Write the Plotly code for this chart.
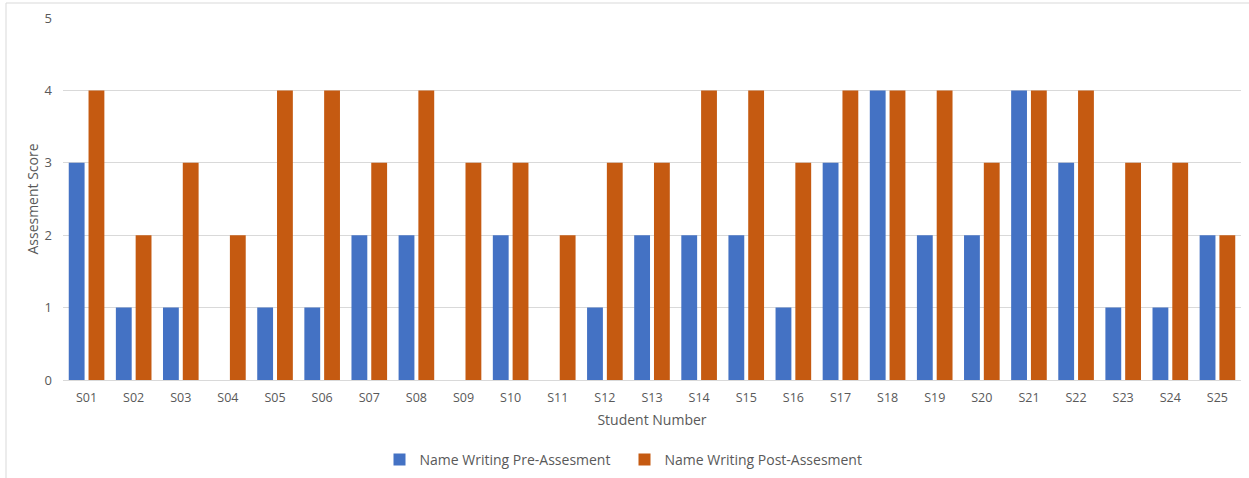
import plotly.graph_objects as go

students = [f"S{i:02d}" for i in range(1, 26)]
pre_scores = [3, 1, 1, 0, 1, 1, 2, 2, 0, 2, 0, 1, 2, 2, 2, 1, 3, 4, 2, 2, 4, 3, 1, 1, 2]
post_scores = [4, 2, 3, 2, 4, 4, 3, 4, 3, 3, 2, 3, 3, 4, 4, 3, 4, 4, 4, 3, 4, 4, 3, 3, 2]
series_names = ["Name Writing Pre-Assesment", "Name Writing Post-Assesment"]
y_ticks = [0, 1, 2, 3, 4, 5]

W, H = 1249, 478
L, R, T, B = 63, 8, 18, 98
FONT = "Open Sans, Liberation Sans, sans-serif"
GRAY = "#595959"

fig = go.Figure()
fig.add_trace(go.Bar(x=students, y=pre_scores, name=series_names[0],
                     marker=dict(color="#4472C4", line=dict(width=0))))
fig.add_trace(go.Bar(x=students, y=post_scores, name=series_names[1],
                     marker=dict(color="#C55A11", line=dict(width=0))))

PW, PH = W - L - R, H - T - B
fig.update_layout(
    width=W, height=H,
    margin=dict(l=L, r=R, t=T, b=B, autoexpand=False),
    paper_bgcolor="white", plot_bgcolor="white",
    barmode="group", bargap=0.16, bargroupgap=0.2,
    font=dict(family=FONT, size=12, color=GRAY),
    legend=dict(orientation="h", x=0.5, xanchor="center", xref="container",
                y=18 / H, yanchor="middle", yref="container",
                bgcolor="rgba(0,0,0,0)",
                font=dict(size=14, color=GRAY), itemwidth=30, traceorder="normal",
                entrywidth=200),
    xaxis=dict(showgrid=False, showline=True, linecolor="#D9D9D9", linewidth=1,
               ticks="", tickfont=dict(size=12.5, color=GRAY), automargin=False,
               ticklabelstandoff=6,
               title=dict(text="Student Number", font=dict(size=14, color=GRAY), standoff=10)),
    yaxis=dict(range=[0, 5], tickvals=y_ticks, showgrid=True, gridcolor="#D9D9D9",
               gridwidth=1, zeroline=False, showline=False, ticks="", automargin=False,
               tickfont=dict(size=13, color=GRAY), ticklabelstandoff=10,
               title=dict(text="Assesment Score", font=dict(size=14, color=GRAY), standoff=2)),
    shapes=[dict(type="rect", xref="paper", yref="paper",
                 x0=-(L - 6) / PW, x1=1 + (R + 10) / PW,
                 y0=-(B + 10) / PH, y1=1 + (T - 3) / PH,
                 line=dict(color="#D9D9D9", width=1), fillcolor="rgba(0,0,0,0)", layer="below")],
)

fig.write_html("out.html", config={"displayModeBar": False},
               post_script="document.body.style.margin='0';document.body.style.overflow='hidden';")
